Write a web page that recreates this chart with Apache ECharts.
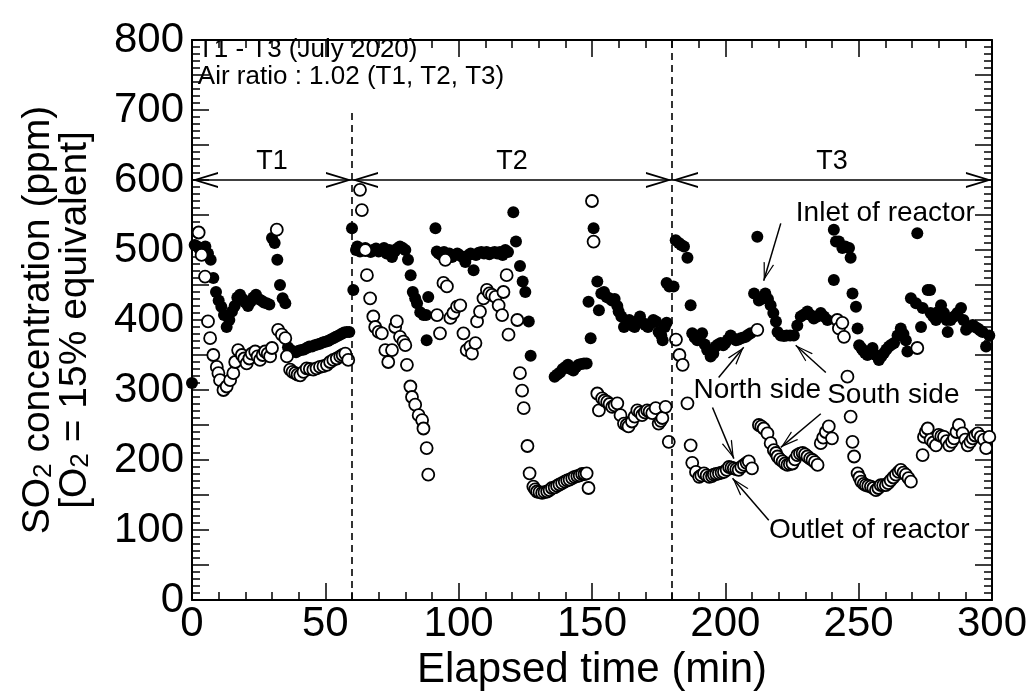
<!DOCTYPE html>
<html>
<head>
<meta charset="utf-8">
<script src="https://cdn.jsdelivr.net/npm/echarts@6/dist/echarts.min.js"></script>
<style>
  html, body { margin: 0; padding: 0; background: #fff; }
  #chart { width: 1030px; height: 700px; }
</style>
</head>
<body>
<div id="chart"></div>
<script>
// SO2 inlet (filled) / outlet (open) readings, [minute, ppm]
var inletT1 = [[0,310],[1,507],[2,505],[3,500],[4,503],[5,505],[6,495],[7,486],[8,460],[9,440],[10,428],[11,419],[12,407],[13,390],[14,400],[15,412],[16,420],[17,432],[18,436],[19,430],[20,425],[21,420],[22,426],[23,432],[24,436],[25,430],[26,428],[27,425],[28,424],[29,422],[30,517],[31,510],[32,486],[33,450],[34,431],[35,424],[36,361],[37,357],[38,355],[39,354],[40,356],[41,357],[42,358],[43,360],[44,362],[45,362],[46,364],[47,365],[48,366],[49,368],[50,369],[51,370],[52,372],[53,374],[54,376],[55,378],[56,380],[57,382],[58,383],[59,383]];
var inletT2 = [[60,531],[60.5,443],[61.5,500],[62,505],[63,498],[64,500],[65,503],[66,500],[67,497],[68,500],[69,502],[70,498],[71,500],[72,503],[73,495],[74,500],[75,490],[76,498],[77,502],[78,505],[79,503],[80,500],[81,486],[82,464],[82.8,440],[83.7,431],[84.4,424],[85.6,411],[86.8,407],[87.8,407],[88,371],[88.6,433],[91.3,531],[91.8,498],[92.5,495],[93.5,493],[94.5,497],[95.5,492],[96.5,495],[97.5,490],[98.5,493],[99.5,495],[100.5,492],[101.5,490],[102.5,483],[103.5,492],[104.5,495],[105.6,471],[106.5,493],[107.5,496],[108.5,497],[109.5,495],[110.5,497],[111.5,494],[112.5,496],[113.5,497],[114.5,495],[115.5,497],[116.5,493],[117.5,500],[118.5,497],[120.5,554],[121.5,512],[123,477],[124,455],[125,440],[126.3,398],[127,349],[136,319],[137,322],[138,325],[139,330],[140,333],[141,336],[142,330],[143,328],[144,333],[145,336],[146,337],[147,338],[148,338],[148.7,426],[149.5,374],[150.6,531],[152,455],[152.6,414],[153.5,438],[154.5,440],[155.5,433],[156.5,431],[157.5,428],[158.5,430],[159.5,420],[160,412],[161,405],[162,390],[163,395],[164,400],[165,392],[166,390],[167,398],[168,405],[169,396],[170,393],[171,390],[172,395],[173,400],[174,398],[175,383],[176,378],[176.5,371],[177.3,390],[178,396],[178,453],[179,448]];
var inletT3 = [[180.6,448],[181.4,514],[182.6,510],[183.5,507],[184.5,505],[185.8,489],[187,421],[187.6,381],[188.5,375],[189.5,371],[190.5,376],[191.3,381],[192.3,365],[193.2,357],[194.5,348],[195.5,352],[196.4,362],[197.3,365],[198.3,367],[199.2,364],[200,367],[201,372],[202,378],[203,374],[204,371],[205,372],[205.8,374],[206.8,375],[207.7,376],[208.6,379],[209.5,381],[210.8,438],[212,519],[212.6,428],[213.5,430],[215,438],[216,430],[217,421],[218,410],[219,398],[219.6,383],[220.8,378],[222,377],[223,378],[224.3,378],[225.7,378],[227,392],[228.3,405],[229.5,408],[230.8,412],[232,407],[233.2,402],[234.5,405],[235.8,410],[237,405],[238.3,400],[240.7,529],[240.7,457],[241.5,512],[242.6,512],[243.9,503],[245,505],[246.4,503],[247,489],[247.7,438],[249,419],[249.6,388],[250.2,364],[251,360],[251.5,357],[252.4,353],[253.3,350],[254.2,355],[255.2,360],[256.4,350],[257.6,343],[258.5,348],[259.5,353],[260.4,358],[261.4,362],[262.4,365],[263.3,367],[264.6,378],[265.8,388],[266.8,380],[267.7,371],[268.3,355],[269.6,431],[271.5,424],[272,524],[273.4,390],[274,417],[275.9,443],[276.8,443],[277,410],[278,405],[279,400],[280,412],[280.9,421],[282,410],[283,400],[283.4,383],[284.5,400],[285.8,405],[287,410],[288.4,417],[289.3,400],[290.3,386],[291.5,390],[292.8,393],[293.7,390],[294.7,388],[295.6,385],[296.5,383],[297.8,362],[299,378]];

var outletT1 = [[2.5,525],[3.6,493],[4.9,462],[6,398],[6.8,374],[8,350],[9.3,333],[9.9,324],[10.5,314],[11.8,300],[13,305],[14.3,314],[15.5,324],[16.2,340],[17.3,357],[18.7,350],[19.6,345],[20.5,338],[21.5,345],[22.4,352],[23.7,355],[24.6,348],[25.5,343],[26.5,350],[27.4,355],[28.4,352],[29.3,348],[30,360],[31.8,529],[32.3,386],[33.7,379],[35,374],[35.6,348],[36.8,329],[37.7,326],[38.7,324],[39.6,322],[40.6,321],[41.8,326],[43,331],[44.2,330],[45.5,329],[46.7,331],[48,333],[49.3,334],[50.6,336],[51.8,340],[53,343],[54.3,345],[55.6,348],[56.5,350],[57.5,352],[58.6,343]];
var outletT2 = [[63,586],[63.7,557],[65,500],[65.6,464],[66.8,431],[68,405],[68.7,390],[70,383],[71.2,381],[72.5,357],[73.6,340],[75,357],[76.2,390],[76.8,398],[78,376],[79.3,369],[80,364],[80.6,336],[81.9,305],[82.5,290],[83.7,279],[85,264],[86.3,257],[86.8,245],[88,217],[88.6,179],[91.9,407],[93,381],[94.3,453],[95,486],[95.6,448],[96.9,403],[98,410],[99.4,419],[100.6,421],[101.8,381],[103,357],[104.4,362],[105,352],[106.3,367],[106.9,398],[108,412],[109.3,431],[110.6,443],[111.5,438],[112.5,436],[113.8,433],[115,421],[116.3,407],[116.8,440],[118,464],[118.7,379],[122,400],[123,324],[123.8,299],[124.4,274],[125.8,220],[126.6,181],[128,162],[128.7,158],[129.4,155],[130.3,154],[131.3,153],[132.2,154],[133.2,155],[134.1,157],[135,160],[136,161],[136.9,163],[137.8,165],[138.8,167],[139.8,169],[140.7,171],[141.6,172],[142.6,174],[143.5,176],[144.5,177],[145.4,178],[146.3,180],[147.2,180],[148,181],[148.7,160],[150,570],[150.6,512],[152,295],[152.6,271],[153.8,288],[154.7,285],[155.7,283],[156.6,280],[157.6,276],[158.5,278],[159.5,281],[160.7,264],[162,252],[163,250],[163.7,248],[165,255],[166,262],[167,271],[168,268],[168.8,264],[169.8,268],[170.7,271],[171.6,269],[172.6,267],[173.9,274],[175,252],[175.8,256],[176.4,260],[177.6,276],[178.8,226]];
var outletT3 = [[181.5,372],[182.8,350],[184,336],[185.8,281],[187,221],[187.6,196],[189,183],[190.2,176],[191,178],[192,181],[193,178],[194,176],[195,177],[195.7,179],[196.6,180],[197.6,181],[198.6,182],[199.5,183],[200.5,186],[201.4,190],[202.3,189],[203.2,188],[204.1,187],[205,186],[206,190],[207,193],[208,196],[208.8,198],[210,188],[212,386],[212.6,250],[213.5,248],[214.4,245],[215.8,238],[217,224],[218.2,214],[219,210],[219.6,205],[220.5,201],[221.5,198],[222.4,195],[223.3,193],[224.2,194],[225.2,195],[226.1,201],[227,207],[228,209],[229,210],[229.9,208],[230.8,205],[231.8,202],[232.7,200],[233.6,197],[234.6,193],[235.8,224],[236.7,232],[237.7,240],[238.8,248],[240,231],[242,400],[242.6,388],[243.9,396],[244.5,376],[245.8,319],[247,262],[247.7,226],[248.3,205],[249.6,181],[250.3,175],[251,169],[251.9,166],[252.7,164],[253.6,163],[254.6,162],[255.5,160],[256.5,157],[257.4,160],[258.3,164],[259.2,164],[260.2,164],[261.1,167],[262,171],[263,175],[264,179],[265,183],[265.8,186],[266.8,182],[267.7,179],[268.7,174],[269.6,169],[272,360],[274,207],[274.5,233],[275.2,240],[275.9,245],[277,229],[278,225],[279,221],[280,236],[281,234],[282,233],[283,227],[284,221],[285,226],[285.8,231],[286.7,240],[287.6,250],[289,238],[290,229],[290.9,221],[291.9,226],[292.8,231],[293.7,235],[294.7,238],[295.8,233],[297,229],[297.8,217],[299,233]];

// test periods: [label, start, end]
var periods = [['T1', 0, 60], ['T2', 60, 180], ['T3', 180, 300]];
var periodArrowY = 600;
// dashed separators: [minute, top ppm]
var separators = [[60, 700], [180, 800]];
// annotation arrows: [[fromX, fromY], [toX, toY]] (arrow head at "to")
var pointers = [
  [[220.8, 538], [214.4, 456]],
  [[197.5, 318], [206.9, 361]],
  [[195.2, 275], [203.2, 202]],
  [[237.7, 325], [226.4, 364]],
  [[235.8, 266], [220.8, 218]],
  [[216.3, 114], [202.7, 174]]
];
// annotation texts: [text, x, y, align]
var notes = [
  ['Inlet of reactor', 260, 553, 'center'],
  ['North side', 212, 300, 'center'],
  ['South side', 263, 293, 'center'],
  ['Outlet of reactor', 254, 100, 'center'],
  ['T1 - T3 (July 2020)', 2, 786, 'left'],
  ['Air ratio : 1.02 (T1, T2, T3)', 2, 748, 'left']
];

var FONT = "'Liberation Sans', Arial, sans-serif";
var vHead = 'path://M50,0 L100,100 L88,100 L50,22 L12,100 L0,100 Z';

function end(pt, size, sym) {
  return { coord: pt, symbol: sym || vHead, symbolSize: size, symbolOffset: [0, '50%'] };
}

var chart = echarts.init(document.getElementById('chart'));

function axisX(pos, showLabel) {
  return {
    type: 'value', position: pos, min: 0, max: 300, interval: 50,
    axisLine: { show: true, onZero: false, lineStyle: { color: '#000', width: 2 } },
    axisTick: { show: true, inside: true, length: 17, lineStyle: { color: '#000', width: 1.5 } },
    minorTick: { show: true, splitNumber: 5, length: 8, lineStyle: { color: '#000', width: 1.5 } },
    splitLine: { show: false },
    axisLabel: { show: showLabel, color: '#000', fontSize: 42, fontFamily: FONT, margin: 3 },
    name: showLabel ? 'Elapsed time (min)' : '',
    nameLocation: 'middle', nameGap: 47,
    nameTextStyle: { color: '#000', fontSize: 42, fontFamily: FONT }
  };
}
function axisY(pos, showLabel) {
  return {
    type: 'value', position: pos, min: 0, max: 800, interval: 50,
    axisLine: { show: true, onZero: false, lineStyle: { color: '#000', width: 2 } },
    axisTick: { show: true, inside: true, length: 17, lineStyle: { color: '#000', width: 1.5 } },
    minorTick: { show: true, splitNumber: 5, length: 8, lineStyle: { color: '#000', width: 1.5 } },
    splitLine: { show: false },
    axisLabel: {
      show: showLabel, color: '#000', fontSize: 42, fontFamily: FONT, margin: 8,
      formatter: function (v) { return v % 100 === 0 ? String(v) : ''; }
    },
    name: showLabel ? '{n|SO}{s|2}{n| concentration (ppm)}\n{n|[O}{s|2}{n| = 15% equivalent]}' : '',
    nameLocation: 'middle', nameGap: 98,
    nameTextStyle: {
      color: '#000', fontFamily: FONT,
      rich: {
        n: { fontSize: 39, lineHeight: 37, fontFamily: FONT, color: '#000' },
        s: { fontSize: 26, lineHeight: 18, verticalAlign: 'bottom', fontFamily: FONT, color: '#000' }
      }
    }
  };
}

var periodLines = periods.map(function (p) {
  return [
    end([p[1], periodArrowY], [16, 26]),
    Object.assign(end([p[2], periodArrowY], [16, 26]), {
      label: { show: true, formatter: p[0], position: 'middle', distance: 5, color: '#000', fontSize: 27, fontFamily: FONT }
    })
  ];
});
var sepLines = separators.map(function (s) {
  return [
    { coord: [s[0], 0], symbol: 'none', lineStyle: { type: [7, 5], width: 1.6 } },
    { coord: [s[0], s[1]], symbol: 'none' }
  ];
});
var pointerLines = pointers.map(function (p) {
  return [{ coord: p[0], symbol: 'none' }, end(p[1], [11, 18])];
});

chart.setOption({
  animation: false,
  grid: { left: 192, right: 38, top: 40, bottom: 100 },
  xAxis: [axisX('bottom', true), axisX('top', false)],
  yAxis: [axisY('left', true), axisY('right', false)],
  series: [
    {
      name: 'Inlet', type: 'scatter', symbolSize: 12,
      itemStyle: { color: '#000', opacity: 1 },
      data: inletT1.concat(inletT2, inletT3),
      markLine: {
        silent: true, symbol: ['none', 'none'], animation: false,
        lineStyle: { color: '#000', width: 1.6, type: 'solid' },
        label: { show: false },
        data: periodLines.concat(sepLines)
      }
    },
    {
      name: 'Outlet', type: 'scatter', symbolSize: 12,
      itemStyle: { color: '#fff', borderColor: '#000', borderWidth: 1.8, opacity: 1 },
      data: outletT1.concat(outletT2, outletT3),
      markLine: {
        silent: true, symbol: ['none', 'none'], animation: false,
        lineStyle: { color: '#000', width: 1.5, type: 'solid' },
        label: { show: false },
        data: pointerLines
      },
      markPoint: {
        silent: true, animation: false,
        symbol: 'rect', symbolSize: 1,
        itemStyle: { color: 'rgba(0,0,0,0)', borderWidth: 0 },
        data: notes.map(function (n) {
          var small = n[3] === 'left';
          return {
            name: n[0], coord: [n[1], n[2]],
            label: {
              show: true, formatter: '{b}', color: '#000',
              position: small ? 'right' : 'inside', distance: 0,
              fontSize: small ? 26 : 28, fontFamily: FONT
            }
          };
        })
      }
    }
  ]
});
</script>
</body>
</html>
